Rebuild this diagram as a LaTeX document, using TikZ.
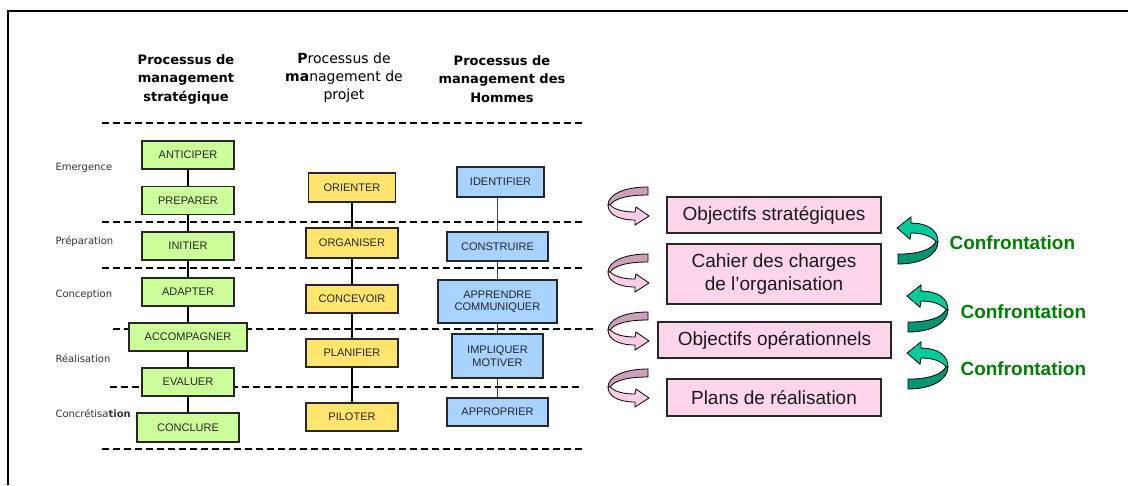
\documentclass[tikz,border=0pt]{standalone}
\usepackage{fontspec}
\setmainfont{Liberation Sans}
\newfontfamily\headfont{DejaVu Sans}
\usepackage{xcolor}
\usepackage{tikz}

\definecolor{boxgreen}{RGB}{204,255,153}
\definecolor{boxyellow}{RGB}{255,229,110}
\definecolor{boxblue}{RGB}{168,210,255}
\definecolor{boxpink}{RGB}{255,213,235}
\definecolor{mauve}{RGB}{204,160,184}
\definecolor{pinklight}{RGB}{255,205,232}
\definecolor{tealfront}{RGB}{0,204,153}
\definecolor{tealback}{RGB}{0,150,115}
\definecolor{confgreen}{RGB}{0,128,0}

\begin{document}
\begin{tikzpicture}[x=1pt,y=-1pt,
  box/.style={draw=black!85, line width=1.3pt, text=black!85, align=center,
    font=\fontsize{11}{12.5}\selectfont, inner sep=2pt, minimum height=28pt},
  greenbox/.style={box, fill=boxgreen, minimum width=92pt},
  yellowbox/.style={box, fill=boxyellow, minimum width=92pt},
  bluebox/.style={box, fill=boxblue, minimum width=101pt},
  pinkbox/.style={draw=black!85, line width=1.3pt, fill=boxpink, text=black!90,
    font=\fontsize{19}{23}\selectfont, align=center, inner sep=2pt,
    minimum width=214pt, minimum height=36pt},
  head/.style={font=\headfont\bfseries\fontsize{13}{18.5}\selectfont, align=center},
  phase/.style={font=\headfont\fontsize{10}{11}\selectfont, text=black!80, anchor=west},
  conf/.style={font=\bfseries\fontsize{19}{22}\selectfont, text=confgreen, anchor=west},
  sep/.style={line width=1.5pt, dash pattern=on 7pt off 4pt},
  link/.style={line width=1.5pt},
  thinlink/.style={line width=0.9pt, black!75},
  turn back/.initial=mauve,
  turn front/.initial=pinklight,
  pics/turn/.style={code={
    \filldraw[fill=\pgfkeysvalueof{/tikz/turn back}, draw=black, line width=0.8pt]
      (40,0) .. controls (15,0) and (0,8) .. (0,18) -- (2,18)
      .. controls (6,12) and (18,8) .. (40,8) -- cycle;
    \filldraw[fill=\pgfkeysvalueof{/tikz/turn front}, draw=black, line width=0.8pt]
      (0,18) .. controls (0,27) and (10,33) .. (27,33) -- (27,38) -- (41,29)
      -- (28,20) -- (27,25) .. controls (14,25) and (6,22) .. (2,18) -- cycle;
  }}]
  \useasboundingbox (0,0) rectangle (1128,485);
  \draw[line width=2pt] (8,485) -- (8,11) -- (1128,11);

  % headers
  \node[head] (h1) at (186,79) {Processus de\\management\\stratégique};
  \node[head, font=\headfont\fontsize{14}{18}\selectfont] (h2) at (344,78)
    {{\bfseries P}rocessus de\\{\bfseries ma}nagement de\\projet};
  \node[head] (h3) at (502,79) {Processus de\\management des\\Hommes};

  % phase separators
  \foreach \y/\a/\b in {123/102/583, 222/102/583, 268/102/583,
                        329/113/596, 387/110/583, 449/102/583}
    \draw[sep] (\a,\y) -- (\b,\y);

  \node[phase] (em) at (52,168) {Emergence};
  \node[phase] (prep) at (52,242) {Préparation};
  \node[phase] (conc) at (52,295) {Conception};
  \node[phase] (real) at (52,359) {Réalisation};
  \node[phase] (concr) at (52,414) {Concrétisa{\bfseries tion}};

  % strategic column
  \node[greenbox] (ant) at (188,155) {ANTICIPER};
  \node[greenbox] (pre) at (188,200.5) {PREPARER};
  \node[greenbox] (ini) at (188,246) {INITIER};
  \node[greenbox] (ada) at (188,292) {ADAPTER};
  \node[greenbox, minimum width=118pt] (acc) at (188,337) {ACCOMPAGNER};
  \node[greenbox] (eva) at (188,382) {EVALUER};
  \node[greenbox, minimum width=102pt, minimum height=29pt] (con) at (188,427.5) {CONCLURE};

  % project column
  \node[yellowbox, minimum width=87pt, minimum height=29pt] (ori) at (352,187.5) {ORIENTER};
  \node[yellowbox, minimum height=30pt] (org) at (352,243) {ORGANISER};
  \node[yellowbox] (cov) at (352,299) {CONCEVOIR};
  \node[yellowbox] (pla) at (352,353) {PLANIFIER};
  \node[yellowbox] (pil) at (352,417) {PILOTER};

  % people column
  \node[bluebox, minimum width=87pt, minimum height=30pt] (ide) at (500.5,182) {IDENTIFIER};
  \node[bluebox, minimum height=29pt] (cst) at (497.5,246.5) {CONSTRUIRE};
  \node[bluebox, minimum width=119pt, minimum height=43pt] (app) at (497.5,301.5) {APPRENDRE\\COMMUNIQUER};
  \node[bluebox, minimum width=91pt, minimum height=44pt] (imp) at (497.5,356) {IMPLIQUER\\MOTIVER};
  \node[bluebox] (apr) at (497.5,412) {APPROPRIER};

  \foreach \a/\b in {ant/pre, pre/ini, ini/ada, ada/acc, acc/eva, eva/con,
                     ori/org, org/cov, cov/pla, pla/pil}
    \draw[link] (\a) -- (\b);
  \foreach \a/\b in {cst/app, app/imp, imp/apr}
    \draw[thinlink] (\a) -- (\b);
  \draw[thinlink] (cst.north) -- (cst.north |- ide.south);

  % objectives
  \node[pinkbox] (obs) at (774,215) {Objectifs stratégiques};
  \node[pinkbox, minimum height=60pt] (cah) at (774,274) {Cahier des charges\\de l’organisation};
  \node[pinkbox, minimum width=233pt] (obo) at (774.5,340) {Objectifs opérationnels};
  \node[pinkbox, minimum height=37pt] (plr) at (774,397.5) {Plans de réalisation};

  \foreach \y in {187,254,312,369}
    \pic at (608,\y) {turn};
  \foreach \x/\y in {938/264, 948/332, 948/389}
    \pic[rotate=180, yscale=1.24, turn back=tealback, turn front=tealfront] at (\x,\y) {turn};

  \node[conf] (c1) at (946,243) {Confrontation};
  \node[conf] (c2) at (957,312) {Confrontation};
  \node[conf] (c3) at (957,369) {Confrontation};
\end{tikzpicture}
\end{document}
